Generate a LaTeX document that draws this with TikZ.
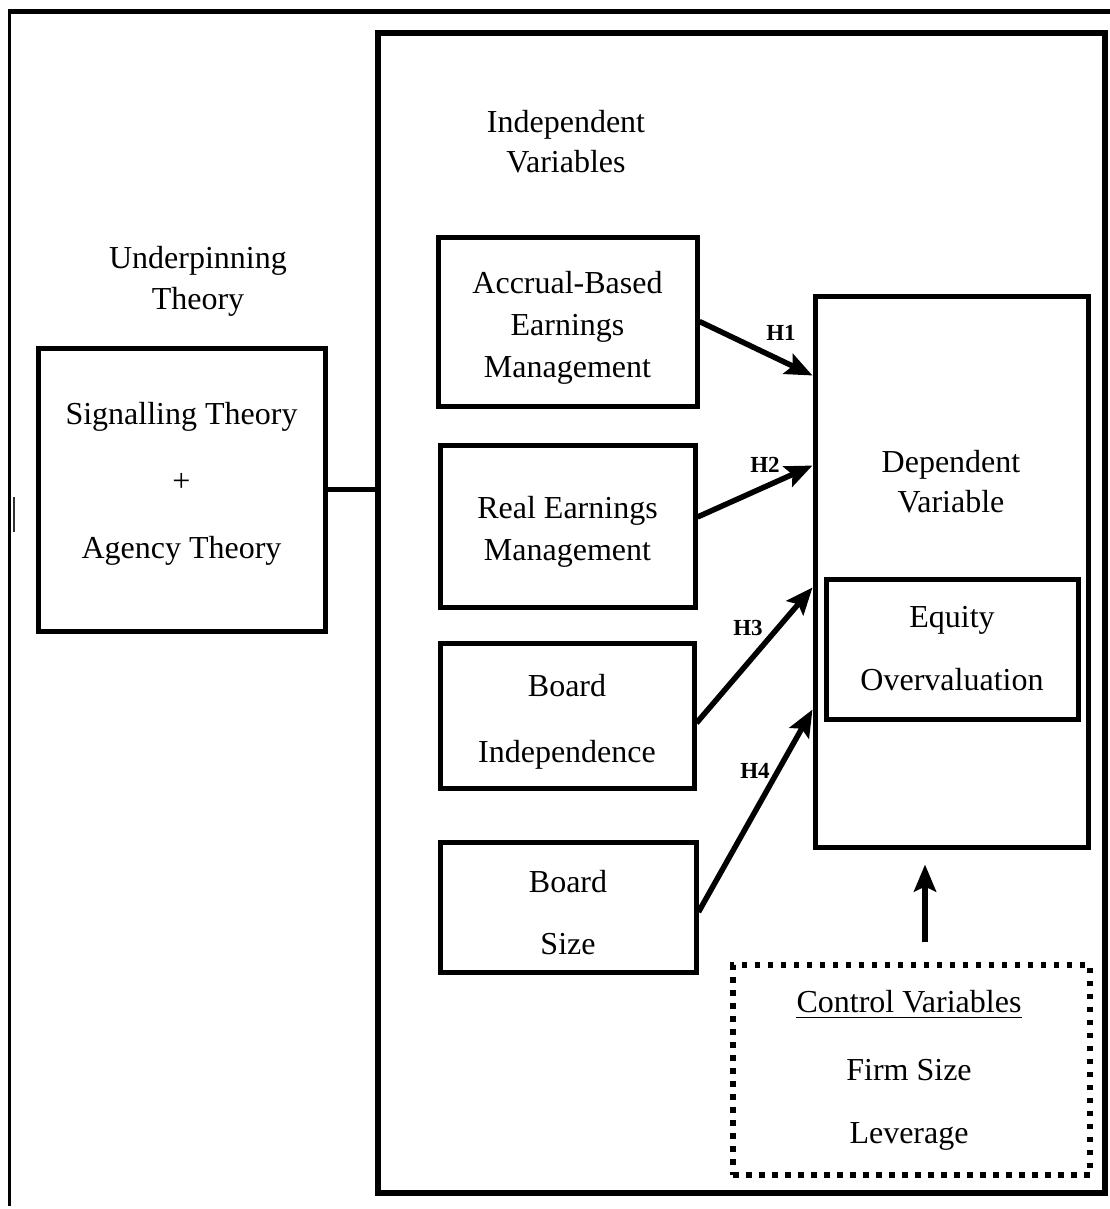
\documentclass[tikz,border=0pt]{standalone}
\usepackage{fontspec}
\setmainfont{Liberation Serif}
\usetikzlibrary{arrows.meta,calc}
\newcommand{\firststrut}{\rule{0pt}{34pt}}
\begin{document}
\begin{tikzpicture}[x=1pt,y=-1pt,
  box/.style={draw,line width=5pt,inner sep=0pt,align=center,font=\fontsize{32}{42}\selectfont},
  lbl/.style={inner sep=0pt,align=center,font=\fontsize{32}{41}\selectfont},
  hyp/.style={-{Stealth[length=27pt,width=22pt,inset=5pt]},line width=5.5pt},
  hl/.style={font=\fontsize{23}{23}\bfseries\selectfont,inner sep=0pt}]
\useasboundingbox (0,0) rectangle (1110,1209);
\fill[white] (0,0) rectangle (1110,1209);
% outer frame (top and left only)
\coordinate (otl) at (9,12);
\coordinate (otr) at (1110,12);
\coordinate (obl) at (9,1206);
\draw[line width=5pt] ($(otl)+(-1.5,0)$) -- (otr);
\draw[line width=3pt] (otl) -- (obl);
\coordinate (s1) at (14,497);
\coordinate (s2) at (14,532);
\draw[line width=1.5pt,black!80] (s1) -- (s2);
% big box
\node[draw,line width=6pt,minimum width=727pt,minimum height=1160pt,inner sep=0pt] (big) at (741.5,613) {};
% theory
\node[lbl] (ut) at (198,281) {Underpinning\\Theory};
\node[box,minimum width=287pt,minimum height=283pt] (th) at (181.5,489.5) {};
\node[inner sep=0pt,align=center,font=\fontsize{32}{67}\selectfont] (tht) at (181.5,484) {Signalling Theory\\+\\Agency Theory};
\draw[line width=5pt] (th.east) -- (th.east -| big.west);
% independent
\node[lbl,font=\fontsize{32}{40}\selectfont] (iv) at (566,142) {Independent\\Variables};
\node[box,minimum width=259pt,minimum height=169pt] (acc) at (567.5,321.5) {\firststrut Accrual-Based\\Earnings\\Management};
\node[box,minimum width=255pt,minimum height=162pt] (real) at (567.5,526) {\firststrut Real Earnings\\Management};
\node[box,minimum width=254pt,minimum height=145pt,font=\fontsize{32}{66}\selectfont] (bi) at (567,715.5) {\firststrut Board\\Independence};
\node[box,minimum width=256pt,minimum height=130pt,font=\fontsize{32}{62}\selectfont] (bs) at (568,907) {\firststrut Board\\Size};
% dependent
\node[box,minimum width=273pt,minimum height=551pt] (dep) at (951.5,571.5) {};
\node[lbl,font=\fontsize{32}{40}\selectfont] (dept) at (951,482) {Dependent\\Variable};
\node[box,minimum width=252pt,minimum height=140pt,font=\fontsize{32}{63}\selectfont] (eq) at (952,649) {Equity\\Overvaluation};
% hypotheses
\draw[hyp] (acc.east) -- ($(dep.north west)+(0,82)$);
\draw[hyp] ($(real.east)+(0,-9)$) -- ($(dep.north west)+(0,172)$);
\draw[hyp] ($(bi.east)+(0,7.5)$) -- ($(dep.north west)+(0,294)$);
\draw[hyp] ($(bs.east)+(0,5)$) -- ($(dep.north west)+(0,416)$);
\node[hl] (h1) at (781,333) {H1};
\node[hl] (h2) at (765,465) {H2};
\node[hl] (h3) at (748,628) {H3};
\node[hl] (h4) at (755,771) {H4};
% control
\node[draw,line width=5.5pt,dash pattern=on 5.5pt off 7.5pt,minimum width=357pt,minimum height=210pt,inner sep=0pt] (ctrl) at (911.5,1070) {};
\node[lbl] (ct) at (909,1002) {Control Variables};
\draw[line width=1.8pt] ($(ct.south west)+(0,4)$) -- ($(ct.south east)+(0,4)$);
\node[lbl] (fs) at (909,1070) {Firm Size};
\node[lbl] (lev) at (909,1136) {Leverage};
\draw[hyp] ($(ctrl.north)+(13.5,-20)$) -- ($(dep.south)+(-26.5,15)$);
\end{tikzpicture}
\end{document}
